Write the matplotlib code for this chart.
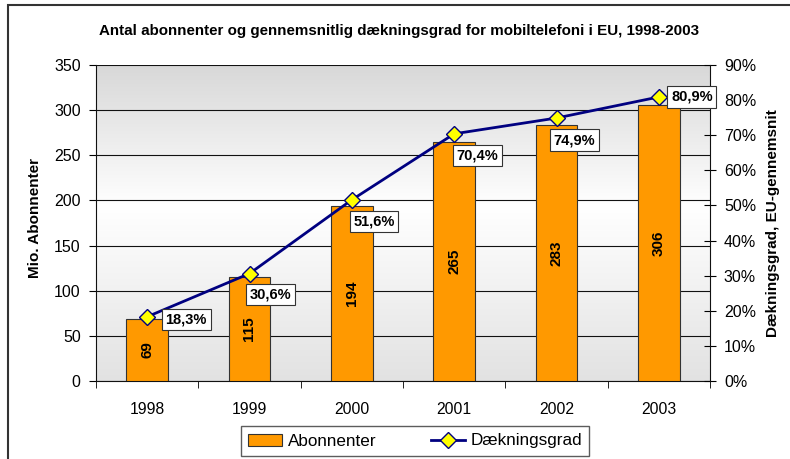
import numpy as np
import matplotlib.pyplot as plt
from matplotlib.colors import LinearSegmentedColormap
from matplotlib.patches import Rectangle
from matplotlib.lines import Line2D
from matplotlib.ticker import MultipleLocator, FuncFormatter

plt.rcParams['font.family'] = ['Liberation Sans', 'DejaVu Sans']

# data
years = ['1998', '1999', '2000', '2001', '2002', '2003']
subscribers = [69, 115, 194, 265, 283, 306]          # mio.
coverage = [18.3, 30.6, 51.6, 70.4, 74.9, 80.9]       # percent

# label box offsets (pixels, right / down) from each marker
label_offsets = [(39, -3), (21, -21), (22, -22), (23, -22), (18, -22), (33, 0)]

fig = plt.figure(figsize=(7.9, 4.59), dpi=100)
fig.patch.set_facecolor('white')
fig.patches.append(Rectangle((8 / 790, -0.1), 1.2, 1.1 - 5 / 459 + 0.001,
                             transform=fig.transFigure, fill=False,
                             edgecolor='#333333', linewidth=1.5))

ax = fig.add_axes([96 / 790, 1 - 381 / 459, 614 / 790, 316 / 459])
x = np.arange(len(years))

# gray-white-gray background gradient
cmap = LinearSegmentedColormap.from_list('bg', [(0, '#e2e2e2'), (0.55, '#ffffff'), (1, '#d8d8d8')])
grad = np.linspace(0, 1, 256).reshape(-1, 1)
ax.imshow(grad, cmap=cmap, aspect='auto', extent=(-0.5, 5.5, 0, 350), origin='lower', zorder=0)

ax.bar(x, subscribers, width=0.41, color='#FF9900', edgecolor='#333333', linewidth=0.8, zorder=3)
for xi, v in zip(x, subscribers):
    ax.text(xi, v / 2, str(v), rotation=90, ha='center', va='center',
            fontsize=11, fontweight='bold', zorder=4)

ax.set_xlim(-0.5, 5.5)
ax.set_ylim(0, 350)
ax.yaxis.set_major_locator(MultipleLocator(50))
ax.grid(axis='y', color='#111111', linewidth=0.8, zorder=1)
ax.set_axisbelow(True)
ax.set_xticks(x)
ax.set_xticklabels(years)
ax.set_xticks(np.arange(-0.5, 6, 1), minor=True)
ax.tick_params(axis='x', which='major', length=0, pad=15, labelsize=11.3)
ax.tick_params(axis='x', which='minor', length=5, direction='out')
ax.tick_params(axis='y', length=5, direction='out', pad=6, labelsize=11.5)
for s in ['top', 'right']:
    ax.spines[s].set_visible(False)
for s in ['left', 'bottom']:
    ax.spines[s].set_color('#111111')

ax2 = ax.twinx()
ax2.patch.set_visible(False)
ax2.plot(x, coverage, color='#000080', linewidth=2, marker='D', markersize=8,
         markerfacecolor='#FFFF00', markeredgecolor='#000080', markeredgewidth=1, zorder=5)
ax2.set_ylim(0, 90)
ax2.yaxis.set_major_locator(MultipleLocator(10))
ax2.yaxis.set_major_formatter(FuncFormatter(lambda v, p: f'{v:.0f}%'))
ax2.tick_params(axis='y', length=8, direction='inout', pad=6, labelsize=11.5)
for s in ['top', 'left', 'bottom']:
    ax2.spines[s].set_visible(False)
ax2.spines['right'].set_color('#111111')

for xi, c, (dx, dy) in zip(x, coverage, label_offsets):
    ax2.annotate(f'{c:.1f}%'.replace('.', ','), (xi, c), xytext=(dx, dy),
                 textcoords='offset pixels', ha='center', va='center',
                 fontsize=10.5, fontweight='bold', zorder=6,
                 bbox=dict(boxstyle='square,pad=0.25', facecolor='white',
                           edgecolor='#333333', linewidth=0.8))

fig.text(0.505, 0.933, 'Antal abonnenter og gennemsnitlig dækningsgrad for mobiltelefoni i EU, 1998-2003',
         ha='center', va='center', fontsize=10.9, fontweight='bold')
fig.text(35 / 790, 1 - 218 / 459, 'Mio. Abonnenter', rotation=90, ha='center', va='center',
         fontsize=11, fontweight='bold')
fig.text(773 / 790, 1 - 223 / 459, 'Dækningsgrad, EU-gennemsnit', rotation=90, ha='center',
         va='center', fontsize=11, fontweight='bold')

handles = [Rectangle((0, 0), 1, 1, facecolor='#FF9900', edgecolor='#333333', linewidth=0.8),
           Line2D([], [], color='#000080', linewidth=2, marker='D', markersize=8,
                  markerfacecolor='#FFFF00', markeredgecolor='#000080')]
fig.legend(handles, ['Abonnenter', 'Dækningsgrad'], loc='center', ncol=2,
           bbox_to_anchor=(415 / 790, 1 - 441 / 459), frameon=True, fancybox=False,
           edgecolor='#333333', fontsize=12.3, handlelength=2.0, columnspacing=3.2,
           borderpad=0.45, handletextpad=0.3)

fig.savefig('out.png', dpi=100)
